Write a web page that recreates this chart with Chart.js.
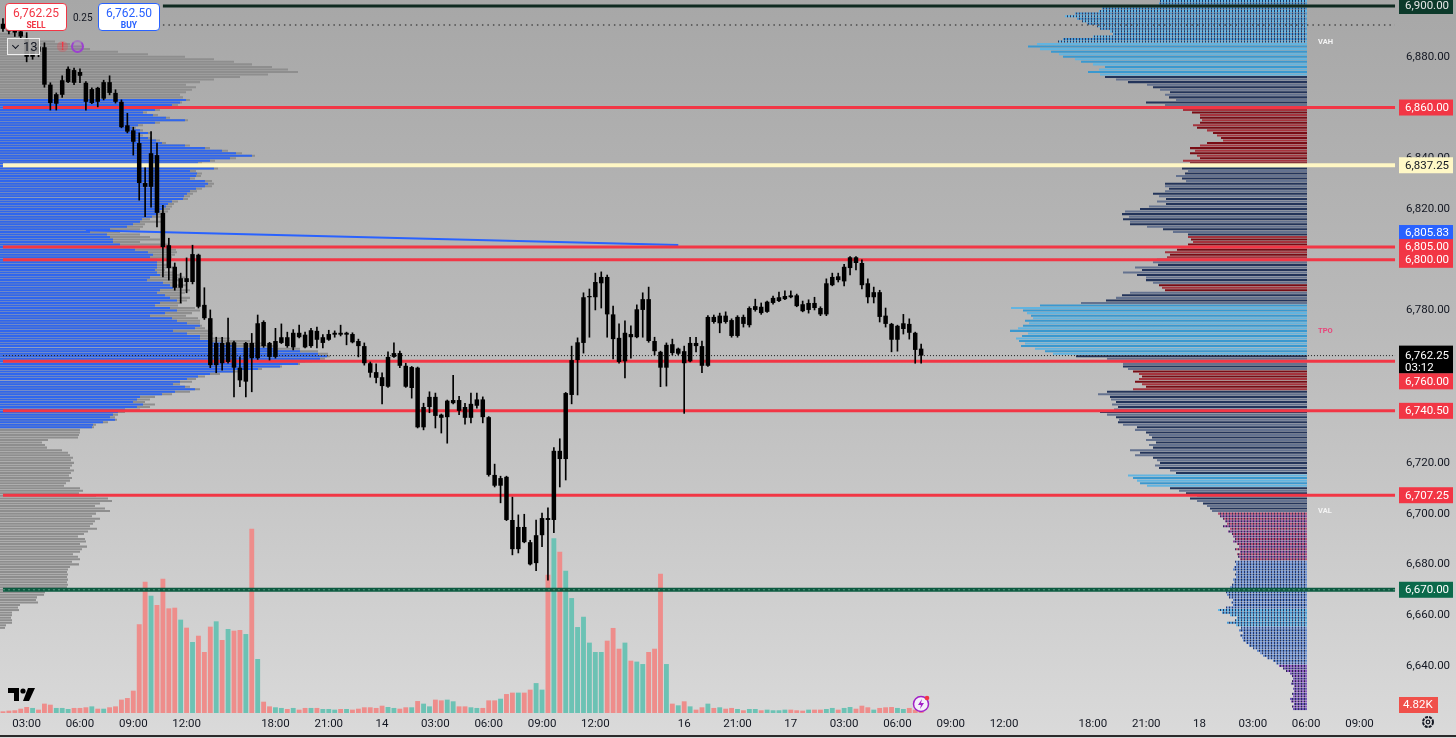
<!DOCTYPE html>
<html>
<head>
<meta charset="utf-8">
<title>ES 20m</title>
<script src="https://cdn.jsdelivr.net/npm/chart.js@4.4.1/dist/chart.umd.min.js"></script>
<style>
  html, body { margin: 0; padding: 0; }
  body {
    width: 1456px; height: 738px; overflow: hidden; position: relative;
    background: linear-gradient(180deg, #a7a7a7 0%, #bababa 45%, #dadada 100%);
    font-family: Roboto, "Noto Sans", sans-serif;
  }
  canvas { position: absolute; left: 0; top: 0; }
  .box { position: absolute; top: 3px; width: 60px; height: 26px; background: #fff; border: 1px solid; border-radius: 4px; text-align: center; line-height: 1; }
  .box b { display: block; font-size: 12px; font-weight: 400; margin-top: 3px; }
  .box span { display: block; font-size: 8.5px; font-weight: 700; margin-top: 2px; }
  #spread { position: absolute; left: 73px; top: 12px; font-size: 10px; color: #131722; }
  #iv { position: absolute; left: 7px; top: 38px; width: 29px; height: 15px; border: 1px solid #f0f0f0; background: rgba(170,170,170,0.85); font-size: 13px; color: #131722; line-height: 15px; padding-left: 2px; }
  #iv i { display: inline-block; width: 4px; height: 4px; border-right: 1.5px solid #131722; border-bottom: 1.5px solid #131722; transform: rotate(45deg); margin: 0 5px 3px 3px; }
  #warn { position: absolute; left: 57px; top: 41px; width: 11px; height: 11px; border-radius: 6px; background: rgba(242,54,69,0.25); color: #f23645; font-size: 10px; font-weight: 700; text-align: center; line-height: 11px; }
  #sync { position: absolute; left: 71px; top: 40px; width: 9px; height: 9px; border-radius: 7px; border: 2px solid #9c3fd0; border-top-color: rgba(156,63,208,0.35); background: rgba(156,63,208,0.15); }
  #bottomline { position: absolute; left: 0; top: 735px; width: 1456px; height: 2px; background: #2b2b2b; }
  svg { position: absolute; }
</style>
</head>
<body>
<canvas id="profil" width="1456" height="738"></canvas>
<canvas id="kurs" width="1456" height="738"></canvas>

<div class="box" style="left:5px;border-color:#f23645;color:#f23645"><b>6,762.25</b><span>SELL</span></div>
<div id="spread">0.25</div>
<div class="box" style="left:98px;border-color:#2962ff;color:#2962ff"><b>6,762.50</b><span>BUY</span></div>
<div id="iv"><i></i>13</div>
<div id="warn">!</div>
<div id="sync"></div>
<svg style="left:8px;top:688px" width="28" height="13" viewBox="0 0 28 13">
  <path d="M0 0h11v13H6V5H0z" fill="#000"/>
  <circle cx="15" cy="3" r="2.6" fill="#000"/>
  <path d="M20 0h7l-6 13h-6z" fill="#000"/>
</svg>
<svg style="left:912px;top:694px" width="20" height="19" viewBox="0 0 20 19">
  <circle cx="9" cy="10" r="7.5" fill="#f4eefa" stroke="#a21fc7" stroke-width="1.5"/>
  <path d="M10 5l-4 6h3l-1 4 4-6h-3z" fill="#a21fc7"/>
  <circle cx="15" cy="4" r="2.3" fill="#f23645"/>
</svg>
<svg style="left:1421px;top:715px" width="14" height="14" viewBox="0 0 14 14">
  <circle cx="7" cy="7" r="5" fill="none" stroke="#131722" stroke-width="2" stroke-dasharray="3 1"/>
  <circle cx="7" cy="7" r="1.8" fill="none" stroke="#131722" stroke-width="1.2"/>
</svg>
<div id="bottomline"></div>

<script>
// 20-Minuten-Kerzen ES, Do 13.11. 01:40 bis Mo 17.11. 07:20
const open = [
  6893, 6892, 6891, 6890, 6887, 6880, 6884, 6883.75, 6869, 6861.5,
  6865, 6870, 6874.75, 6874, 6869.75, 6861.75, 6867.75, 6863.5, 6870, 6865.75,
  6862.25, 6853, 6851, 6846, 6830.25, 6828.75, 6841.25, 6818.5, 6805.75, 6797.25,
  6789, 6792.75, 6791.25, 6802, 6782.25, 6777, 6758.5, 6767.25, 6759.75, 6767.5,
  6757.5, 6752, 6767.25, 6761.25, 6775.5, 6767.25, 6761.75, 6767.25, 6769.5, 6765.5,
  6771.25, 6770.5, 6766, 6772, 6767.25, 6768.5, 6770.5, 6771.25, 6770.5, 6770.75,
  6768, 6766, 6759.25, 6755.75, 6753.75, 6750, 6761.75, 6763.25, 6758.25, 6749.5,
  6757.5, 6734, 6742, 6746, 6739, 6738, 6743.5, 6744.75, 6742, 6737.75,
  6742.5, 6745, 6738, 6715.25, 6711, 6714.5, 6697.5, 6686, 6694.75, 6688.75,
  6680.5, 6691.5, 6698.25, 6697.5, 6724.75, 6721.5, 6746.75, 6760.5, 6767.25, 6785.25,
  6785.25, 6790.75, 6793.25, 6778.5, 6769.25, 6760, 6770.75, 6769.5, 6780.25, 6784.5,
  6768, 6763.75, 6757.5, 6766.75, 6763, 6764, 6760, 6767.25, 6766, 6758.25,
  6777.5, 6775, 6778, 6776.25, 6770, 6777.5, 6774.25, 6780.25, 6781.5, 6779.5,
  6783, 6783.75, 6784.5, 6786, 6786, 6782.5, 6780.25, 6783, 6781, 6778.5,
  6790, 6793.5, 6791.5, 6796.75, 6801, 6798.75, 6790.75, 6785.25, 6787.25, 6778,
  6774.75, 6768.5, 6772.75, 6774.75, 6771.25, 6765
];
const high = [
  6895, 6894, 6892.5, 6891, 6889.5, 6885, 6886, 6885.5, 6869.75, 6865.75,
  6872.5, 6876, 6875.5, 6875.25, 6870.25, 6867.75, 6868, 6870.75, 6872.5, 6867,
  6863, 6857.75, 6852.25, 6850, 6836.25, 6850.5, 6846, 6821.5, 6808.5, 6798.75,
  6794.75, 6800.75, 6805.75, 6802.25, 6789, 6780.25, 6769.5, 6769.5, 6777, 6768,
  6761.75, 6767.5, 6771, 6778.25, 6776, 6767.5, 6773, 6774.75, 6771.5, 6772.5,
  6774.25, 6771.5, 6773, 6773.5, 6770.5, 6772.25, 6772, 6774.25, 6771.5, 6771.25,
  6768.75, 6767.25, 6759.75, 6759, 6755.5, 6763.75, 6767.25, 6764, 6759.25, 6758,
  6757.75, 6743.5, 6748, 6747.5, 6739.25, 6744.75, 6754.5, 6746.25, 6743.5, 6747.5,
  6747.5, 6746, 6738.25, 6719.5, 6714.75, 6714.75, 6706.5, 6699.5, 6699.75, 6689.5,
  6697.5, 6700.25, 6702.25, 6726, 6729.5, 6747.75, 6766, 6769.25, 6787, 6788.5,
  6794.75, 6795.25, 6794, 6781.75, 6774.75, 6776, 6774, 6782.25, 6787, 6789.25,
  6769.5, 6764, 6767.25, 6768.75, 6765.25, 6766, 6769.5, 6769.5, 6768, 6778,
  6778.25, 6779, 6779.5, 6776.75, 6778, 6778.25, 6781.5, 6784.5, 6783, 6783.75,
  6785.75, 6787.25, 6787.75, 6787.75, 6786.5, 6783.75, 6784.25, 6785.25, 6781.5, 6792.5,
  6794.75, 6794.75, 6798.25, 6801.25, 6801.25, 6800, 6792.5, 6789.25, 6788, 6781,
  6775, 6774.25, 6778.5, 6776.75, 6771.5, 6766.75
];
const low = [
  6890, 6889, 6888, 6887, 6878, 6879, 6880, 6868, 6859, 6859,
  6864, 6869.75, 6869, 6869.75, 6859, 6861.5, 6860.25, 6863, 6865, 6861.75,
  6852, 6850, 6841.25, 6823.5, 6817, 6820.75, 6813, 6793.25, 6792, 6788,
  6783, 6787, 6790.5, 6781, 6776.5, 6757.5, 6755.5, 6756.5, 6759.25, 6746,
  6750, 6746, 6748, 6760.75, 6765.5, 6760.5, 6761.25, 6767, 6765.5, 6764.5,
  6769.25, 6765.25, 6765.5, 6765.25, 6765.25, 6768.25, 6769.5, 6770, 6766.5, 6767.25,
  6761.75, 6758.5, 6753.75, 6751.5, 6743.25, 6749.75, 6761.5, 6757.5, 6749.75, 6745.5,
  6733.75, 6733, 6739.75, 6733.75, 6731.75, 6727.75, 6743.25, 6739, 6735.25, 6735.75,
  6741.5, 6735.75, 6714.75, 6710.5, 6704.25, 6697.25, 6683.75, 6684.5, 6688.5, 6679.75,
  6677.5, 6687, 6673.75, 6692.5, 6710.5, 6713.25, 6743.25, 6746.75, 6763.25, 6769.5,
  6780.25, 6781, 6769.5, 6761, 6759.25, 6753.5, 6761.25, 6769.25, 6769.5, 6767.5,
  6762.5, 6750, 6750.25, 6762.5, 6762.5, 6739.5, 6759.75, 6763.75, 6755.5, 6758,
  6775, 6771.25, 6775, 6769.5, 6769.5, 6773.5, 6773.5, 6779.75, 6778.5, 6779.25,
  6782.5, 6783.5, 6784.25, 6785, 6781.5, 6779.5, 6779, 6780.25, 6778, 6778,
  6789.75, 6791.25, 6789.75, 6794, 6796, 6788.5, 6783, 6783, 6775.5, 6773.5,
  6763.75, 6764, 6770.75, 6768.75, 6759.25, 6759.25
];
const close = [
  6891, 6890, 6889.5, 6888, 6880, 6883, 6882, 6869, 6861.75, 6865.25,
  6870.75, 6875.25, 6869.75, 6872.5, 6862.25, 6867.25, 6862.25, 6870, 6865.75, 6862.25,
  6852.25, 6850.5, 6846.5, 6830.25, 6828.75, 6842, 6818.5, 6805, 6796.75, 6789,
  6792.75, 6791.25, 6802.25, 6781.5, 6777, 6758.5, 6767.25, 6759.25, 6767.5, 6757.5,
  6752.5, 6767.25, 6761.25, 6775, 6766, 6761.75, 6768, 6769.5, 6766, 6771.25,
  6769.5, 6765.5, 6772.25, 6768.5, 6769.5, 6770.75, 6771.25, 6770.5, 6771.25, 6767.5,
  6766, 6759.25, 6755.5, 6753.5, 6750.25, 6761.75, 6763.25, 6758.25, 6750, 6757.75,
  6734, 6742, 6746, 6738.5, 6737.75, 6744.5, 6744.75, 6740.5, 6737.75, 6743.25,
  6745, 6738, 6715.25, 6711, 6714, 6697.5, 6686, 6694.75, 6688.75, 6680,
  6691.5, 6698.25, 6697.5, 6724.75, 6721.5, 6747.5, 6760.5, 6767.5, 6785.25, 6785.75,
  6791.25, 6793.25, 6778.5, 6768.75, 6759.75, 6771.25, 6769.5, 6780.5, 6784.5, 6768,
  6764, 6757.5, 6766.5, 6763.25, 6765, 6759.25, 6767.25, 6766, 6758.25, 6777.5,
  6775.5, 6778, 6775.5, 6770, 6777.5, 6774.75, 6781, 6781.75, 6779, 6783.5,
  6785, 6785.25, 6785.75, 6785.25, 6781.75, 6779.75, 6783, 6781, 6778.5, 6790.75,
  6793.25, 6792, 6797.25, 6801, 6798.75, 6790, 6785.25, 6787.25, 6777.5, 6774.75,
  6768.5, 6774, 6775, 6771.25, 6764.5, 6762.25
];
// Volumen in Tausend Kontrakten
const volume = [
  1.8, 2.5, 2.9, 4.6, 6.4, 5.4, 3.6, 10, 8.9, 5.4,
  5.4, 4.3, 5.4, 5.4, 6.1, 7.1, 4.6, 4.6, 6.1, 7.1,
  14.3, 16, 23.9, 95, 140.5, 125.5, 115.6, 143.7, 112, 112.7,
  99.9, 91.3, 76, 82.7, 65.3, 92.4, 98.1, 78.1, 89.9, 88.1,
  88.8, 84.5, 197.2, 57.8, 12.1, 7.1, 6.1, 5.4, 4.3, 5.4,
  3.6, 5.4, 5.4, 5.4, 4.3, 4.3, 3.6, 4.3, 4.3, 3.6,
  4.6, 6.1, 6.1, 5.4, 7.8, 6.4, 5.4, 4.6, 6.1, 6.1,
  12.8, 10, 7.1, 14.3, 13.5, 14.3, 12.5, 7.1, 7.1, 6.1,
  5.4, 5.4, 13.5, 13.5, 15.3, 20.3, 21.8, 21.8, 21.8, 25,
  32, 25, 148, 187, 172.6, 152.3, 123, 92, 103, 75.3,
  65.3, 65.3, 77.4, 91, 68.8, 75.3, 56, 55, 52.4, 65.3,
  68.8, 149, 52.4, 10, 8.2, 12.5, 7.1, 3.6, 6.1, 10,
  5.4, 6.1, 4.6, 5.4, 4.3, 2.9, 4.3, 4.3, 2.9, 3.6,
  2.9, 2.9, 3.6, 3.6, 2.9, 2.5, 3.6, 3.6, 3.6, 4.3,
  5.4, 3.6, 5.4, 6.4, 4.6, 7.8, 6.1, 3.6, 5.4, 6.1,
  6.4, 5.4, 4.3, 5.4, 3.6, 4.82
];

// Volumenprofil links (sichtbarer Bereich), je 1 Punkt, von 6889 abwärts bis 6655
const leftProfTop = 6889;
const leftProfTotal = [
  18, 28, 40, 55, 70, 82, 90, 118, 148, 185,
  214, 234, 252, 272, 288, 298, 268, 240, 214, 200,
  186, 196, 192, 186, 180, 183, 190, 182, 178, 168,
  160, 147, 158, 170, 188, 160, 143, 136, 143, 152,
  143, 152, 160, 166, 190, 210, 228, 242, 255, 236,
  215, 202, 207, 218, 196, 202, 201, 195, 212, 214,
  212, 202, 197, 193, 190, 188, 178, 174, 172, 170,
  168, 165, 162, 150, 165, 145, 143, 140, 120, 140,
  150, 160, 140, 168, 170, 176, 177, 175, 172, 175,
  163, 170, 176, 165, 175, 180, 185, 180, 175, 186,
  183, 190, 185, 180, 190, 187, 182, 178, 195, 200,
  192, 186, 198, 200, 200, 202, 205, 212, 213, 210,
  230, 250, 265, 278, 300, 318, 328, 330, 325, 312,
  300, 282, 262, 238, 220, 205, 196, 192, 180, 190,
  200, 190, 172, 155, 150, 145, 155, 150, 140, 125,
  118, 115, 117, 108, 96, 94, 80, 80, 79, 78,
  48, 42, 45, 47, 62, 68, 70, 73, 71, 74,
  72, 70, 74, 71, 69, 72, 70, 66, 64, 80,
  83, 79, 96, 108, 112, 100, 95, 105, 110, 96,
  92, 100, 95, 93, 90, 97, 88, 84, 78, 85,
  86, 80, 87, 82, 80, 73, 78, 80, 72, 79,
  70, 68, 67, 68, 67, 68, 67, 68, 67, 60,
  45, 44, 37, 36, 38, 20, 18, 19, 12, 12,
  11, 12, 12, 6, 5
];
// Value-Area-Anteil (blau), 6863 abwärts bis 6734
const leftVaTop = 6863;
const leftProfVA = [
  186, 180, 172, 165,
  155, 143, 153, 166, 185, 155, 138, 132, 140, 148,
  139, 148, 156, 162, 185, 205, 222, 236, 252, 230,
  210, 198, 203, 214, 190, 197, 196, 190, 205, 208,
  205, 196, 190, 187, 184, 183, 172, 168, 166, 163,
  160, 157, 152, 142, 140, 133, 127, 110, 90, 107,
  110, 113, 113, 120, 130, 135, 148, 153, 150, 157,
  157, 157, 157, 155, 157, 160, 150, 147, 163, 170,
  173, 160, 157, 165, 170, 177, 160, 155, 170, 177,
  165, 150, 172, 177, 187, 200, 195, 173, 187, 200,
  200, 210, 222, 233, 273, 300, 318, 327, 320, 305,
  298, 280, 258, 233, 210, 198, 187, 180, 173, 185,
  195, 175, 162, 140, 137, 133, 143, 137, 125, 118,
  113, 110, 115, 103, 93, 92
];

// Volumenprofil rechts (Session), 6902 abwärts bis 6623
const rightProfTop = 6902;
const rightProf = [
  147, 148, 150, 205, 208, 232, 242, 230,
  225, 220, 210, 207, 197, 194, 214, 244, 249, 270,
  279, 267, 256, 248, 244, 232, 226, 214, 202, 208,
  219, 207, 202, 191, 179, 160, 154, 147, 137, 142,
  138, 131, 161, 142, 140, 124, 115, 107, 107, 105,
  107, 114, 110, 100, 94, 90, 86, 84, 100, 107,
  117, 112, 117, 110, 107, 124, 117, 120, 125, 119,
  122, 131, 125, 121, 142, 142, 138, 142, 154, 148,
  141, 150, 141, 158, 167, 182, 185, 178, 184, 177,
  177, 160, 144, 134, 119, 119, 116, 114, 119, 126,
  130, 142, 137, 140, 150, 154, 149, 172, 165, 184,
  170, 161, 161, 154, 148, 145, 142, 177, 185, 191,
  201, 226, 267, 296, 284, 280, 276, 274, 282, 278,
  284, 289, 297, 279, 285, 291, 288, 282, 286, 272,
  262, 254, 231, 200, 186, 184, 184, 179, 174, 168,
  165, 168, 172, 165, 161, 174, 200, 209, 197, 196,
  191, 195, 189, 193, 207, 200, 191, 188, 189, 184,
  170, 172, 161, 158, 155, 161, 151, 158, 154, 177,
  167, 172, 154, 150, 147, 152, 148, 137, 131, 179,
  174, 170, 167, 160, 137, 128, 121, 110, 117, 110,
  104, 100, 97, 95, 89, 87, 84, 82, 80, 84,
  77, 79, 75, 74, 72, 74, 70, 68, 72, 67,
  70, 69, 67, 72, 71, 73, 74, 71, 72, 71,
  74, 73, 75, 77, 74, 81, 80, 78, 74, 76,
  74, 81, 89, 85, 77, 70, 72, 80, 71, 66,
  68, 64, 67, 65, 64, 61, 58, 54, 50, 47,
  44, 40, 34, 31, 28, 24, 21, 17, 15, 14,
  15, 16, 13, 14, 13, 15, 14, 17, 16, 13,
  15, 14
];

// Preislinien
const redLevels = [6860, 6805, 6800, 6760, 6740.5, 6707.25];
const creamLevel = 6837.25;
const greenLevels = [6900, 6670];
const lastPrice = 6762.25;
const upperDotted = 6892.5;
const trendLine = [[14, 6811.6], [114, 6805.83]];
const rayStartBar = 27;

// ---- Zeitachse: 20-Min-Bars, Pause 17-18 Uhr und Wochenende ----
const barCount = 236;
const barTimes = [];
let t = Date.UTC(2025, 10, 13, 1, 40);
while (barTimes.length < barCount) {
  const d = new Date(t);
  const wd = d.getUTCDay(), h = d.getUTCHours();
  const closed = h === 17 || (wd === 5 && h >= 17) || wd === 6 || (wd === 0 && h < 18);
  if (!closed) barTimes.push(d);
  t += 20 * 60000;
}
const tickText = barTimes.map((d, i) => {
  if (i === 0) return '';
  if (d.getUTCDate() !== barTimes[i - 1].getUTCDate()) return String(d.getUTCDate());
  const h = d.getUTCHours();
  if (d.getUTCMinutes() === 0 && [3, 6, 9, 12, 18, 21].includes(h)) return String(h).padStart(2, '0') + ':00';
  return '';
});

const yMax = 6902.36, yMin = 6621.45;   // Pixelraster der Vorlage
const fmt = v => v.toLocaleString('en-US', { minimumFractionDigits: 2, maximumFractionDigits: 2 });
const fontFam = 'Roboto, "Noto Sans", sans-serif';
// Achsen ohne Zusatzabstand, damit beide Canvas deckungsgleich sind
const noPad = s => { s.paddingTop = 0; s.paddingBottom = 0; s.paddingLeft = 0; s.paddingRight = 0; };

// ---- Profil-Chart (Hintergrund) ----
function dots(fg, bg) {
  const c = document.createElement('canvas');
  c.width = 3; c.height = 1;
  const g = c.getContext('2d');
  g.fillStyle = bg; g.fillRect(0, 0, 3, 1);
  g.fillStyle = fg; g.fillRect(0, 0, 2, 1);
  return g.createPattern(c, 'repeat');
}
const tones = {
  blue: ['#3a98cf', '#62b4e0'],
  navy: ['#23345a', '#64728f'],
  red: ['#780c14', '#a5343e'],
  dotBlue: [dots('#63b6e6', '#24375f'), dots('#4a9ad4', '#2c3c66')],
  dotRed: [dots('#b45072', '#3a2a5c'), dots('#8d4c9c', '#2d2a58')],
  dotNavy: [dots('#5d86cc', '#1f2d55'), dots('#7a9ad8', '#28386a')],
  dotPurple: [dots('#8c5cc0', '#2a2050'), dots('#6f55b5', '#2a2a5a')]
};
const rightZones = [
  [6886, 6902, 'dotBlue'], [6873, 6885, 'blue'], [6860, 6872, 'navy'], [6838, 6859, 'red'],
  [6810, 6837, 'navy'], [6801, 6809, 'red'], [6791, 6800, 'navy'], [6788, 6790, 'red'],
  [6783, 6787, 'navy'], [6763, 6782, 'blue'], [6757, 6762, 'navy'], [6749, 6756, 'red'],
  [6716, 6748, 'navy'], [6711, 6715, 'blue'], [6701, 6710, 'navy'], [6682, 6700, 'dotRed'],
  [6663, 6681, 'dotNavy'], [6656, 6662, 'dotBlue'], [6641, 6655, 'dotNavy'], [6620, 6640, 'dotPurple']
];
function rightColour(price) {
  const z = rightZones.find(r => price >= r[0] && price <= r[1]);
  return tones[z ? z[2] : 'navy'][Math.round(price) % 2];
}

const profileMarks = [
  { value: 6885.8, text: 'VAH', colour: '#f5f5f5' },
  { value: 6772, text: 'TPO', colour: '#e8457a' },
  { value: 6701, text: 'VAL', colour: '#f5f5f5' }
];
const profileLabels = {
  id: 'profileLabels',
  afterDraw(chart) {
    const { ctx, scales } = chart;
    ctx.save();
    ctx.font = 'bold 7.5px ' + fontFam;
    ctx.textBaseline = 'middle';
    profileMarks.forEach(m => {
      ctx.fillStyle = m.colour;
      ctx.fillText(m.text, scales.xr.getPixelForValue(-11), scales.y.getPixelForValue(m.value));
    });
    ctx.restore();
  }
};

new Chart(document.getElementById('profil'), {
  type: 'bar',
  data: {
    datasets: [
      {
        xAxisID: 'xl', order: 1,
        data: leftProfVA.map((v, i) => ({ y: leftVaTop - i, x: v })),
        backgroundColor: '#2f66ee'
      },
      {
        xAxisID: 'xl', order: 2,
        data: leftProfTotal.map((v, i) => ({ y: leftProfTop - i, x: v })),
        backgroundColor: '#8e8e8e'
      },
      {
        xAxisID: 'xr', order: 3,
        data: rightProf.map((v, i) => ({ y: rightProfTop - i, x: v })),
        backgroundColor: c => rightColour(c.raw ? c.raw.y : 6800)
      }
    ]
  },
  options: {
    indexAxis: 'y',
    responsive: false,
    animation: false,
    layout: { padding: { left: 0, top: 0, right: 58, bottom: 25 } },
    plugins: { legend: { display: false }, tooltip: { enabled: false } },
    datasets: { bar: { grouped: false, categoryPercentage: 1, barPercentage: 0.8 } },
    scales: {
      y: { type: 'linear', min: yMin, max: yMax, offset: false, display: false },
      xl: { type: 'linear', min: 0, max: 1398, offset: false, display: false },
      xr: { type: 'linear', reverse: true, min: -91, max: 1307, offset: false, display: false }
    }
  },
  plugins: [profileLabels]
});

// ---- Kurs-Chart ----
const fullLine = level => barTimes.map(() => level);
const rayLine = level => barTimes.map((_, i) => (i >= rayStartBar ? level : null));
const trendData = barTimes.map(() => null);
trendLine.forEach(([i, p]) => { trendData[i] = p; });

const lineSet = (data, colour, width, order, dash) => ({
  type: 'line', data, borderColor: colour, borderWidth: width, borderDash: dash || [],
  pointRadius: 0, spanGaps: true, order, yAxisID: 'y'
});

const badgeList = [
  { value: greenLevels[0], bg: '#0d3a2b', fg: '#e6e6e6' },
  { value: redLevels[0], bg: '#f23645', fg: '#ffffff' },
  { value: creamLevel, bg: '#fff8c6', fg: '#131722' },
  { value: trendLine[1][1], bg: '#2962ff', fg: '#ffffff', nudge: -12 },
  { value: redLevels[1], bg: '#f23645', fg: '#ffffff' },
  { value: redLevels[2], bg: '#f23645', fg: '#ffffff' },
  { value: lastPrice, bg: '#000000', fg: '#ffffff', sub: '03:12' },
  { value: redLevels[3], bg: '#f23645', fg: '#ffffff', nudge: 20 },
  { value: redLevels[4], bg: '#f23645', fg: '#ffffff' },
  { value: redLevels[5], bg: '#f23645', fg: '#ffffff' },
  { value: greenLevels[1], bg: '#0b6a4b', fg: '#ffffff' }
];
const badges = {
  id: 'badges',
  afterDraw(chart) {
    const { ctx, scales, chartArea } = chart;
    const x0 = chartArea.right + 1;
    ctx.save();
    ctx.font = '11.5px ' + fontFam;
    ctx.textBaseline = 'middle';
    badgeList.forEach(b => {
      const y = scales.y.getPixelForValue(b.value) + (b.nudge || 0);
      const h = b.sub ? 28 : 16;
      const top = b.sub ? y - 10 : y - 8;
      ctx.fillStyle = b.bg;
      ctx.fillRect(x0, top, 54, h);
      ctx.fillStyle = b.fg;
      ctx.fillText(fmt(b.value), x0 + 6, y + 0.5);
      if (b.sub) ctx.fillText(b.sub, x0 + 6, y + 12.5);
    });
    // Volumen des laufenden Bars
    const vLast = volume[volume.length - 1];
    const vy = Math.min(scales.yv.getPixelForValue(vLast), chartArea.bottom - 8);
    ctx.fillStyle = '#f0504a';
    ctx.fillRect(x0, vy - 8, 39, 16);
    ctx.fillStyle = '#ffffff';
    ctx.fillText(vLast.toFixed(2) + 'K', x0 + 4, vy + 0.5);
    ctx.restore();
  }
};

const upColour = '#6cc2b4', downColour = '#ee8d8b';

new Chart(document.getElementById('kurs'), {
  type: 'bar',
  data: {
    labels: barTimes.map(d => d.toISOString()),
    datasets: [
      {
        data: open.map((o, i) => [o, close[i]]),
        backgroundColor: '#000', barPercentage: 0.76, categoryPercentage: 1,
        grouped: false, minBarLength: 1, order: 1, yAxisID: 'y'
      },
      {
        data: low.map((l, i) => [l, high[i]]),
        backgroundColor: '#000', barThickness: 1,
        grouped: false, order: 2, yAxisID: 'y'
      },
      lineSet(fullLine(lastPrice), '#1a1a1a', 1, 3, [1, 2]),
      ...redLevels.map(l => lineSet(fullLine(l), '#f23645', 3, 4)),
      lineSet(fullLine(creamLevel), '#fff7c4', 4, 4),
      lineSet(trendData, '#2962ff', 2, 4),
      lineSet(rayLine(greenLevels[0]), '#0f2a20', 3, 4),
      lineSet(rayLine(upperDotted), '#4a4a4a', 1.5, 4, [1.5, 4]),
      lineSet(fullLine(greenLevels[1]), '#5f9a84', 1, 4, [2, 3]),
      lineSet(fullLine(greenLevels[1]), '#0d5a40', 4, 5),
      {
        data: volume,
        backgroundColor: volume.map((v, i) => (close[i] >= open[i] ? upColour : downColour)),
        barPercentage: 0.82, categoryPercentage: 1, grouped: false, order: 10, yAxisID: 'yv'
      }
    ]
  },
  options: {
    responsive: false,
    animation: false,
    layout: { padding: 0 },
    plugins: { legend: { display: false }, tooltip: { enabled: false } },
    scales: {
      x: {
        type: 'category', offset: true,
        grid: { display: false, drawTicks: false }, border: { display: false },
        ticks: {
          autoSkip: false, maxRotation: 0, padding: 4, color: '#131722',
          font: { size: 11.5, family: fontFam },
          callback: (v, i) => tickText[i]
        },
        afterFit: s => { s.height = 25; noPad(s); }
      },
      y: {
        position: 'right', min: yMin, max: yMax,
        grid: { display: false, drawTicks: false }, border: { display: false },
        ticks: {
          stepSize: 20, includeBounds: false, padding: 8, color: '#131722',
          font: { size: 11.5, family: fontFam },
          callback: v => fmt(v)
        },
        afterFit: s => { s.width = 58; noPad(s); }
      },
      yv: { display: false, min: 0, max: 763 }
    }
  },
  plugins: [badges]
});
</script>
</body>
</html>
